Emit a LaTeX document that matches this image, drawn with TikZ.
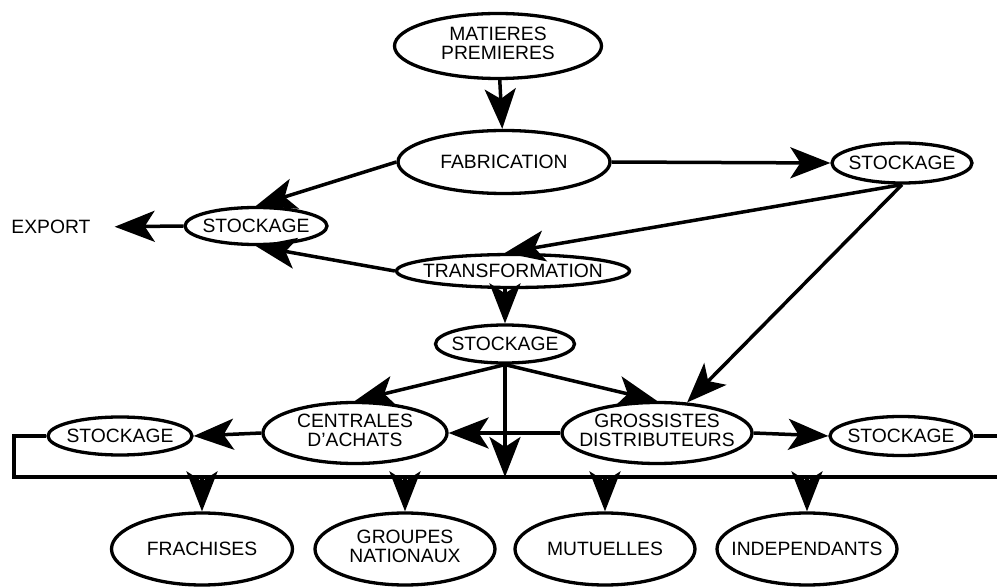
\documentclass[tikz,border=0pt]{standalone}
\usepackage{fontspec}
\setmainfont{Liberation Sans}
\usetikzlibrary{shapes.geometric,arrows.meta}
\newcommand{\ctxt}[1]{\makebox[0pt]{#1}}
\newcommand{\ttxt}[2]{\makebox[0pt]{\begin{tabular}{@{}c@{}}#1\\#2\end{tabular}}}
\begin{document}
\begin{tikzpicture}[x=1pt,y=-1pt,
  oval/.style={ellipse,draw,line width=3.3pt,inner sep=0pt,font=\fontsize{19.3}{18.5}\selectfont},
  conn/.style={line width=3.5pt},
  arr/.style={conn,-{Stealth[length=40pt,width=31pt,inset=10pt]}}]
\useasboundingbox (0,0) rectangle (997,588);
% nodes
\node[oval,minimum width=207pt,minimum height=65pt] (mat) at (498,46) {\ttxt{MATIERES}{PREMIERES}};
\node[oval,minimum width=212pt,minimum height=63pt] (fab) at (504,162) {\ctxt{FABRICATION}};
\node[oval,minimum width=140pt,minimum height=40pt] (stR) at (902,163) {\ctxt{STOCKAGE}};
\node[oval,minimum width=142pt,minimum height=37pt] (stL) at (256,226) {\ctxt{STOCKAGE}};
\node[inner sep=0pt,font=\fontsize{19.3}{18.5}\selectfont] (exp) at (51,227) {EXPORT};
\node[oval,minimum width=233pt,minimum height=33pt] (trans) at (513,271) {\ctxt{TRANSFORMATION}};
\node[oval,minimum width=139pt,minimum height=38pt] (stM) at (505,344) {\ctxt{STOCKAGE}};
\node[oval,minimum width=184pt,minimum height=61pt] (cent) at (355,433) {\ttxt{CENTRALES}{D'ACHATS}};
\node[oval,minimum width=144pt,minimum height=38pt] (stLL) at (120,436) {\ctxt{STOCKAGE}};
\node[oval,minimum width=190pt,minimum height=61pt] (gross) at (657,433) {\ttxt{GROSSISTES}{DISTRIBUTEURS}};
\node[oval,minimum width=142pt,minimum height=39pt] (stRR) at (901,436) {\ctxt{STOCKAGE}};
\node[oval,minimum width=181pt,minimum height=72pt] (fr) at (202,549) {\ctxt{FRACHISES}};
\node[oval,minimum width=180pt,minimum height=72pt] (gn) at (405,549) {\ttxt{GROUPES}{NATIONAUX}};
\node[oval,minimum width=180pt,minimum height=72pt] (mu) at (605,549) {\ctxt{MUTUELLES}};
\node[oval,minimum width=180pt,minimum height=72pt] (ind) at (807,549) {\ctxt{INDEPENDANTS}};
\coordinate (busL) at (14,477);
\coordinate (busR) at (997,477);
\coordinate (rEnd) at (997,436);
% connectors
\draw[arr] (mat) -- (fab);
\draw[arr] (fab.east) -- (stR.west);
\draw[arr] (fab.west) -- (stL.north);
\draw[arr] (trans.west) -- (stL.south);
\draw[arr,shorten >=24pt] (stL.west) -- (exp.east);
\draw[arr] (stR.south) -- ([xshift=-8pt]trans.north);
\draw[arr] (stR.south) -- (gross);
\draw[arr] (stM.north |- trans.south) -- (stM.north);
\draw[arr] (stM.south) -- (cent.north);
\draw[arr] (stM.south) -- (gross.north);
\draw[arr] (stM.south) -- (stM.south |- busL);
\draw[arr] (gross.west) -- (cent.east);
\draw[arr] (cent.west) -- (stLL.east);
\draw[arr] (gross.east) -- (stRR.west);
\draw[conn] (stLL.west) -| (busL) -- (busR);
\draw[conn] (stRR.east) -- (rEnd);
\foreach \n in {fr,gn,mu,ind} \draw[arr] (\n.north |- busL) -- (\n.north);
\end{tikzpicture}
\end{document}
